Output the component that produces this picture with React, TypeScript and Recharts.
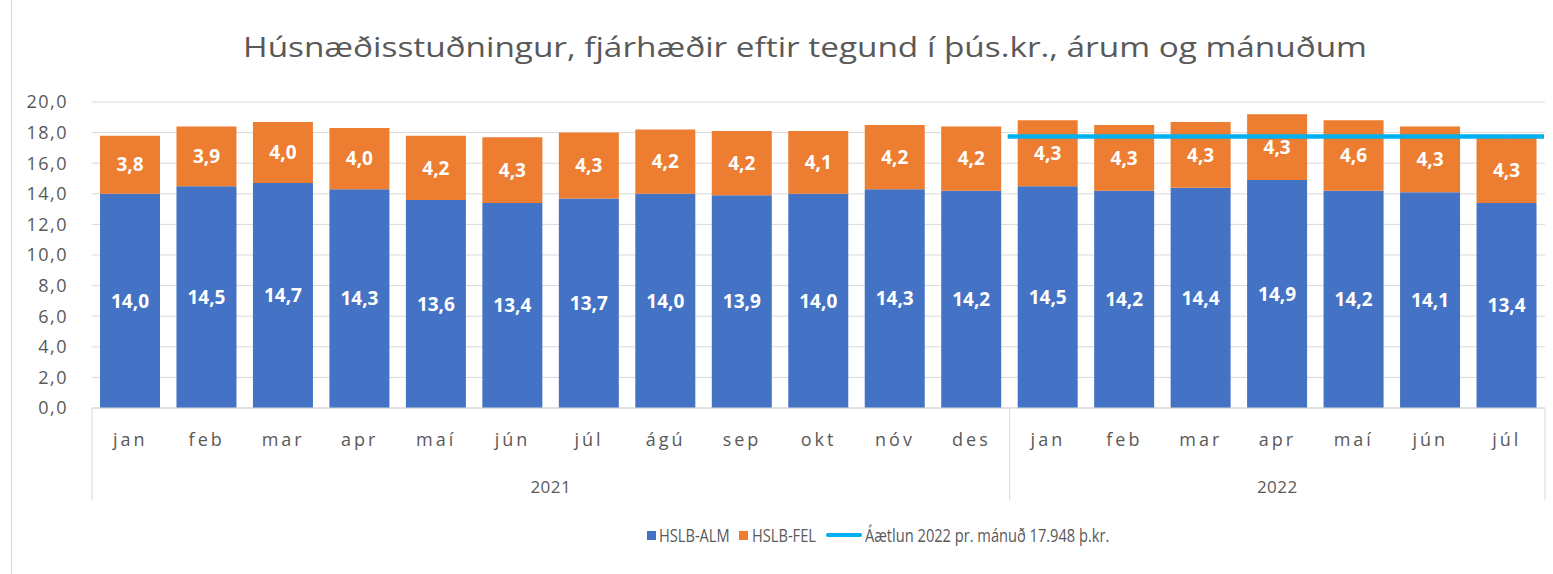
import React from "react";
import { ComposedChart, Bar, Line, XAxis, YAxis, CartesianGrid, LabelList } from "recharts";

const months = ["jan", "feb", "mar", "apr", "maí", "jún", "júl", "ágú", "sep", "okt", "nóv", "des", "jan", "feb", "mar", "apr", "maí", "jún", "júl"];
const years = ["2021", "2021", "2021", "2021", "2021", "2021", "2021", "2021", "2021", "2021", "2021", "2021", "2022", "2022", "2022", "2022", "2022", "2022", "2022"];
const alm = [14.0, 14.5, 14.7, 14.3, 13.6, 13.4, 13.7, 14.0, 13.9, 14.0, 14.3, 14.2, 14.5, 14.2, 14.4, 14.9, 14.2, 14.1, 13.4];
const fel = [3.8, 3.9, 4.0, 4.0, 4.2, 4.3, 4.3, 4.2, 4.2, 4.1, 4.2, 4.2, 4.3, 4.3, 4.3, 4.3, 4.6, 4.3, 4.3];
const plan = [null, null, null, null, null, null, null, null, null, null, null, null, 17.75, 17.75, 17.75, 17.75, 17.75, 17.75, 17.75];
const yTicks = [0, 2, 4, 6, 8, 10, 12, 14, 16, 18, 20];

const data = months.map((m, i) => ({ month: m, year: years[i], alm: alm[i], fel: fel[i], plan: plan[i] }));

const W = 1553;
const H = 574;
const PLOT_LEFT = 92;
const PLOT_RIGHT = 1545;
const band = (PLOT_RIGHT - PLOT_LEFT) / months.length;
const font = "'Open Sans', sans-serif";
const grey = "#595959";
const gridColor = "#d9d9d9";
const blue = "#4472C4";
const orange = "#ED7D31";
const cyan = "#00B0F0";

const fmt = (v: any) => Number(v).toFixed(1).replace(".", ",");

function MonthTick(props: any) {
  const { x, y, payload, index } = props;
  const yr = years[index];
  const first = years.indexOf(yr);
  const last = years.lastIndexOf(yr);
  return (
    <g>
      <text x={x} y={y + 38} textAnchor="middle" fill={grey} fontSize={18} letterSpacing={3} fontFamily={font}>
        {payload.value}
      </text>
      {index === first && (
        <>
          <line x1={x - band / 2} x2={x - band / 2} y1={y} y2={y + 92} stroke={gridColor} />
          <text x={x + ((last - first) * band) / 2} y={y + 85} textAnchor="middle" fill={grey} fontSize={17} letterSpacing={0.5} fontFamily={font}>
            {yr}
          </text>
        </>
      )}
      {index === months.length - 1 && <line x1={x + band / 2} x2={x + band / 2} y1={y} y2={y + 92} stroke={gridColor} />}
    </g>
  );
}

function PlanEnd(props: any) {
  const { cx, cy, index } = props;
  const firstPlan = plan.findIndex((v) => v !== null);
  if (cx == null || cy == null) return <g key={index} />;
  if (index === firstPlan) return <line key={index} x1={cx - band / 2 - 2} x2={cx} y1={cy} y2={cy} stroke={cyan} strokeWidth={4.5} />;
  if (index === plan.length - 1) return <line key={index} x1={cx} x2={cx + band / 2 - 1} y1={cy} y2={cy} stroke={cyan} strokeWidth={4.5} />;
  return <g key={index} />;
}

const legendText: React.CSSProperties = {
  position: "absolute",
  top: 522,
  fontFamily: font,
  fontSize: 19,
  lineHeight: "26px",
  color: grey,
  whiteSpace: "nowrap",
  transform: "scaleX(0.77)",
  transformOrigin: "left center",
};

export default function App() {
  return (
    <div style={{ position: "absolute", left: 0, top: 0, width: W, height: H, background: "#fff", overflow: "hidden" }}>
      <div style={{ position: "absolute", left: 11, top: 0, width: W, height: H, borderLeft: "1px solid #d9d9d9" }} />
      <div
        style={{
          position: "absolute",
          left: 0,
          top: 26,
          width: 1610,
          textAlign: "center",
          fontFamily: font,
          fontSize: 28,
          fontWeight: 400,
          color: grey,
          lineHeight: "40px",
          whiteSpace: "nowrap",
          transform: "scaleX(1.19)",
          transformOrigin: "805px center",
        }}
      >
        Húsnæðisstuðningur, fjárhæðir eftir tegund í þús.kr., árum og mánuðum
      </div>
      <div style={{ position: "absolute", left: 0, top: 0 }}>
        <ComposedChart width={W} height={H} data={data} margin={{ top: 102, right: W - PLOT_RIGHT, bottom: 74, left: 0 }} barCategoryGap={8}>
          <CartesianGrid vertical={false} stroke={gridColor} />
          <XAxis dataKey="month" interval={0} height={92} tickSize={0} tickMargin={0} axisLine={{ stroke: gridColor }} tickLine={false} tick={<MonthTick />} />
          <YAxis
            width={PLOT_LEFT}
            domain={[0, 20]}
            ticks={yTicks}
            tickFormatter={fmt}
            tickSize={0}
            tickMargin={24}
            axisLine={false}
            tickLine={false}
            tick={{ fill: grey, fontSize: 18, fontFamily: font, letterSpacing: 1.5 }}
          />
          <Bar dataKey="alm" stackId="a" fill={blue} isAnimationActive={false}>
            <LabelList dataKey="alm" position="center" formatter={fmt} fill="#fff" fontSize={19} fontWeight={700} fontFamily={font} />
          </Bar>
          <Bar dataKey="fel" stackId="a" fill={orange} isAnimationActive={false}>
            <LabelList dataKey="fel" position="center" formatter={fmt} fill="#fff" fontSize={19} fontWeight={700} fontFamily={font} />
          </Bar>
          <Line dataKey="plan" stroke={cyan} strokeWidth={4.5} dot={<PlanEnd />} activeDot={false} isAnimationActive={false} connectNulls={false} />
        </ComposedChart>
      </div>
      <div style={{ position: "absolute", left: 647, top: 531, width: 9, height: 9, background: blue }} />
      <div style={{ ...legendText, left: 659 }}>HSLB-ALM</div>
      <div style={{ position: "absolute", left: 739, top: 531, width: 9, height: 9, background: orange }} />
      <div style={{ ...legendText, left: 752 }}>HSLB-FEL</div>
      <div style={{ position: "absolute", left: 826, top: 533, width: 36, height: 4, borderRadius: 2, background: cyan }} />
      <div style={{ ...legendText, left: 865 }}>Áætlun 2022 pr. mánuð 17.948 þ.kr.</div>
    </div>
  );
}
